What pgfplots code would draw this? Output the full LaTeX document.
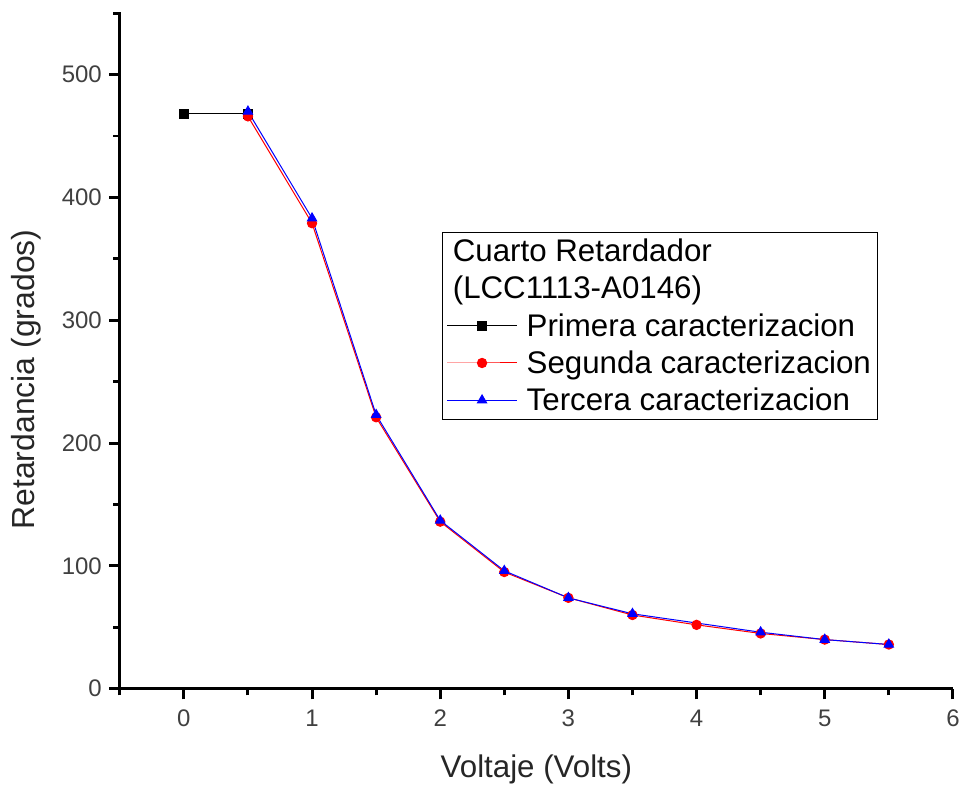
\documentclass[border=0pt]{standalone}
\usepackage{pgfplots}
\pgfplotsset{compat=1.18}
\usepackage{fontspec}
\setmainfont{Liberation Sans}
\begin{document}
\begin{tikzpicture}
\begin{axis}[
  scale only axis,
  width=626pt, height=508.5pt,
  xmin=-0.5, xmax=6, ymin=0, ymax=551,
  axis x line=bottom, axis y line=left,
  axis line style={line width=2.2pt, -},
  tick style={line width=2.2pt, black},
  tick align=outside,
  major tick length=8pt, minor tick length=5pt,
  xtick={0,1,2,3,4,5,6},
  minor xtick={-0.5,0.5,1.5,2.5,3.5,4.5,5.5},
  ytick={0,100,200,300,400,500},
  minor ytick={50,150,250,350,450,550},
  /pgf/number format/assume math mode=true,
  tick label style={font=\fontsize{18}{21}\selectfont, color=black!75},
  xticklabel style={yshift=-4.5pt},
  yticklabel style={xshift=-2pt},
  xlabel={Voltaje (Volts)},
  ylabel={Retardancia (grados)},
  every axis x label/.style={at={(axis description cs:0.5,0)}, yshift=-60.5pt, anchor=center,
    font=\fontsize{23.5}{28}\selectfont, color=black!85},
  every axis y label/.style={at={(axis description cs:-0.1126,0.457)}, rotate=90, anchor=center,
    font=\fontsize{24}{28}\selectfont, color=black!85},
  legend style={at={(0.387,0.6755)}, anchor=north west, draw=black, line width=0.8pt,
    font=\fontsize{23.5}{28}\selectfont, inner sep=3pt, row sep=5.5pt, column sep=5pt},
  legend cell align=left,
  legend image code/.code={\draw[mark repeat=2,mark phase=2] plot coordinates {(0cm,0cm) (0.92cm,0cm) (1.84cm,0cm)};},
]
\addlegendimage{empty legend}
\addlegendentry{\hspace*{-55.5pt}Cuarto Retardador}
\addlegendimage{empty legend}
\addlegendentry{\hspace*{-55.5pt}(LCC1113-A0146)}
\addplot[black, line width=0.75pt, mark=square*, mark size=3.5pt, mark options={solid}] coordinates {
(0,468) (0.5,468)
};
\addlegendentry{Primera caracterizacion}
\addplot[red, line width=0.75pt, mark=*, mark size=3.5pt] coordinates {
(0.5,466) (1,379) (1.5,221) (2,136) (2.5,95) (3,74) (3.5,60) (4,52) (4.5,45) (5,40) (5.5,36)
};
\addlegendentry{Segunda caracterizacion}
\addplot[blue, line width=0.75pt, mark=triangle*, mark size=4pt] coordinates {
(0.5,470) (1,383) (1.5,223) (2,137) (2.5,96) (3,74) (3.5,61) (4.5,46) (5,40) (5.5,36)
};
\addlegendentry{Tercera caracterizacion}
\end{axis}
\path (current axis.south west) ++(-90pt,-75.75pt) rectangle ++(723pt,593.25pt);
\end{tikzpicture}
\end{document}
